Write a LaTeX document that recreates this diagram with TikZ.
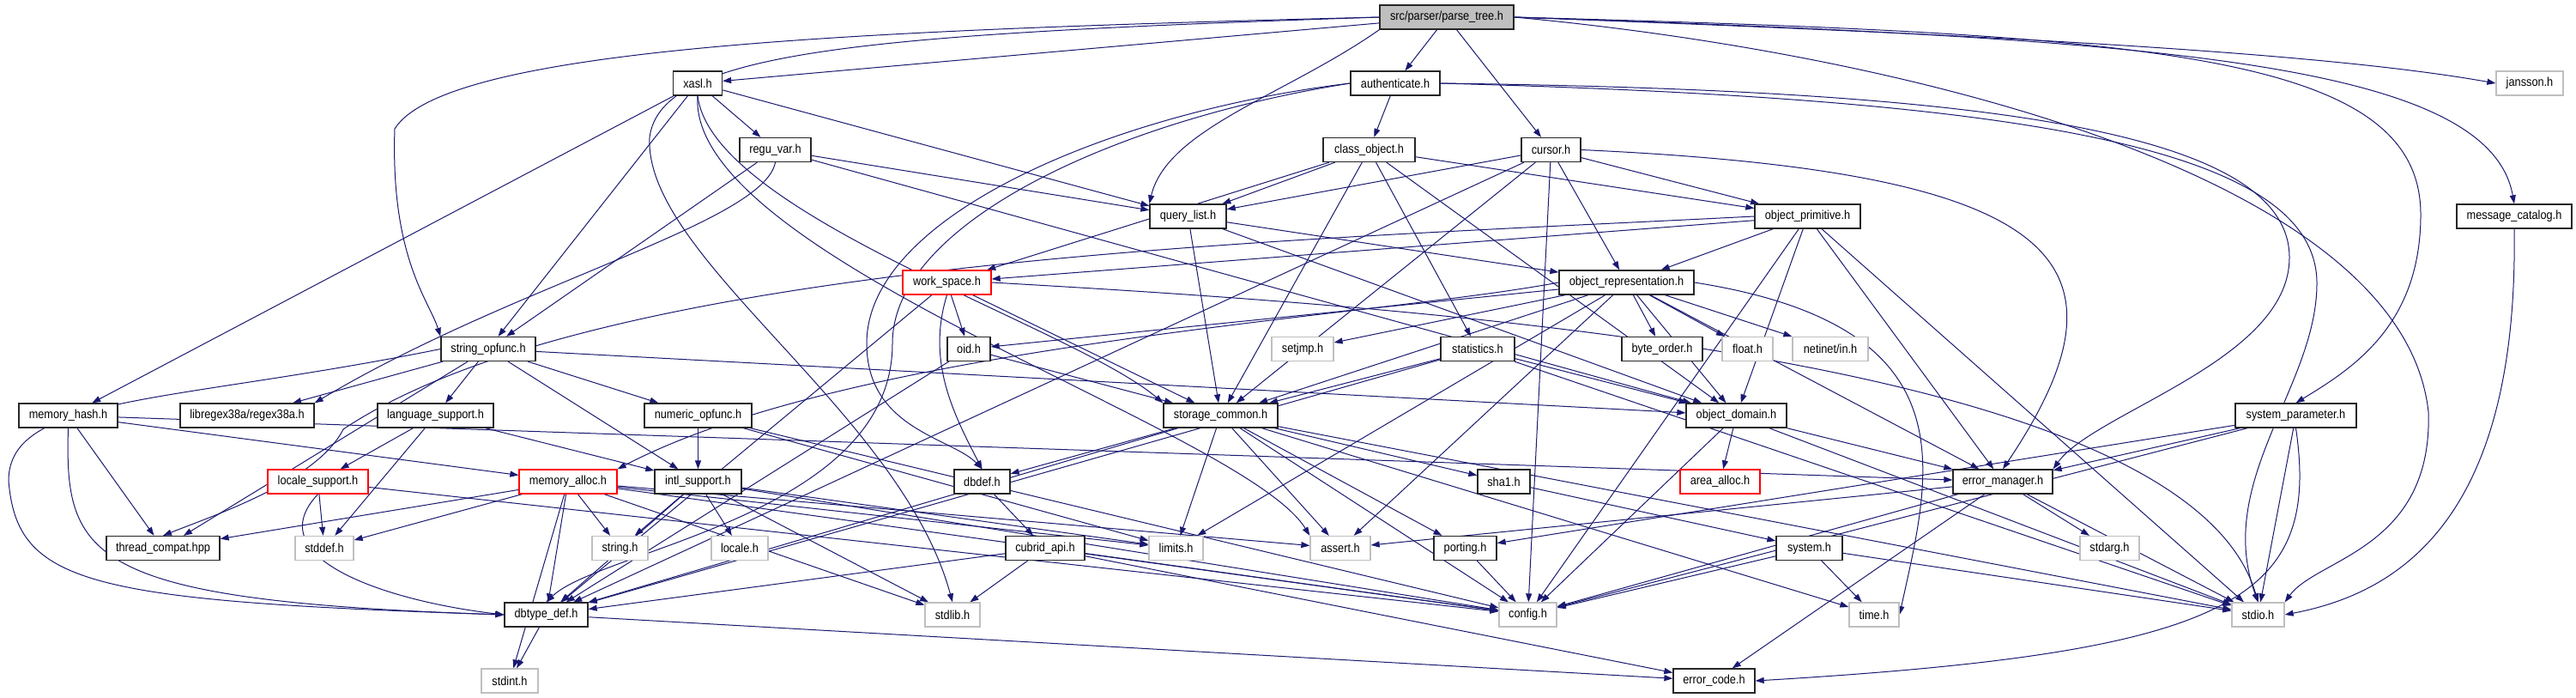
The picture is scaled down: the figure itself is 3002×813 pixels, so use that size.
\documentclass[tikz,border=0pt]{standalone}
\usepackage{fontspec}
\setmainfont[FakeStretch=0.88]{Liberation Sans}
\usetikzlibrary{arrows.meta}
\definecolor{edgec}{HTML}{191970}
\definecolor{gbord}{HTML}{BFBFBF}
\definecolor{fillgray}{HTML}{BFBFBF}
\pgfdeclarelayer{bg}
\pgfsetlayers{bg,main}
\begin{document}
\begin{tikzpicture}[x=1pt,y=-1pt,
  box/.style={draw=black!85,line width=1.3pt,fill=white,rectangle,inner sep=0pt,minimum height=28pt,font=\fontsize{14.5}{16}\selectfont},
  gbox/.style={box,draw=gbord},
  rbox/.style={box,draw=red},
  e/.style={draw=edgec,line width=1pt,-{Triangle[length=10pt,width=7pt]}}]
\useasboundingbox (0,0) rectangle (3002,813);
% rank 0
\node[box,fill=fillgray,minimum width=156pt] (pt) at (1686,20) {src/parser/parse\_tree.h};
% rank 1
\node[box,minimum width=57pt] (xasl) at (813,97) {xasl.h};
\node[box,minimum width=104pt] (auth) at (1626,97) {authenticate.h};
\node[gbox,minimum width=78pt] (jan) at (2948,97) {jansson.h};
% rank 2
\node[box,minimum width=83pt] (regu) at (903.5,174.5) {regu\_var.h};
\node[box,minimum width=107pt] (cls) at (1595.5,174.5) {class\_object.h};
\node[box,minimum width=69pt] (cur) at (1807.5,174.5) {cursor.h};
% rank 3
\node[box,minimum width=89pt] (ql) at (1384.5,252) {query\_list.h};
\node[box,minimum width=123pt] (op) at (2106.5,252) {object\_primitive.h};
\node[box,minimum width=134pt] (mc) at (2930,252) {message\_catalog.h};
% rank 4
\node[rbox,minimum width=103pt] (ws) at (1103.5,329) {work\_space.h};
\node[box,minimum width=157pt] (orep) at (1895.5,329) {object\_representation.h};
% rank 5
\node[box,minimum width=110pt] (so) at (569,406.5) {string\_opfunc.h};
\node[box,minimum width=50pt] (oid) at (1129,406.5) {oid.h};
\node[gbox,minimum width=72pt] (sj) at (1518,406.5) {setjmp.h};
\node[box,minimum width=86pt] (stat) at (1722,406.5) {statistics.h};
\node[box,minimum width=94pt] (bo) at (1937,406.5) {byte\_order.h};
\node[gbox,minimum width=59pt] (flt) at (2036.5,406.5) {float.h};
\node[gbox,minimum width=88pt] (net) at (2133,406.5) {netinet/in.h};
% rank 6
\node[box,minimum width=115pt] (mh) at (79.5,484) {memory\_hash.h};
\node[box,minimum width=156pt] (rx) at (288,484) {libregex38a/regex38a.h};
\node[box,minimum width=135pt] (lang) at (507.5,484) {language\_support.h};
\node[box,minimum width=125pt] (num) at (813.5,484) {numeric\_opfunc.h};
\node[box,minimum width=133pt] (sc) at (1422.5,484) {storage\_common.h};
\node[box,minimum width=117pt] (od) at (2023.5,484) {object\_domain.h};
\node[box,minimum width=141pt] (sp) at (2675.5,484) {system\_parameter.h};
% rank 7
\node[rbox,minimum width=117pt] (ls) at (370.5,561) {locale\_support.h};
\node[rbox,minimum width=114pt] (ma) at (662,561) {memory\_alloc.h};
\node[box,minimum width=101pt] (intl) at (813.5,561) {intl\_support.h};
\node[box,minimum width=65pt] (dbdef) at (1144.5,561) {dbdef.h};
\node[box,minimum width=61pt] (sha) at (1752.5,561) {sha1.h};
\node[rbox,minimum width=93pt] (aa) at (2004.5,561) {area\_alloc.h};
\node[box,minimum width=116pt] (em) at (2334,561) {error\_manager.h};
% rank 8
\node[box,minimum width=132pt] (tc) at (190,638.5) {thread\_compat.hpp};
\node[gbox,minimum width=68pt] (sdef) at (378,638.5) {stddef.h};
\node[gbox,minimum width=65pt] (str) at (722.5,638.5) {string.h};
\node[gbox,minimum width=66pt] (loc) at (862,638.5) {locale.h};
\node[box,minimum width=92pt] (capi) at (1218,638.5) {cubrid\_api.h};
\node[gbox,minimum width=63pt] (lim) at (1370.5,638.5) {limits.h};
\node[gbox,minimum width=70pt] (as) at (1562,638.5) {assert.h};
\node[box,minimum width=73pt] (port) at (1707.5,638.5) {porting.h};
\node[box,minimum width=77pt] (sys) at (2108.5,638.5) {system.h};
\node[gbox,minimum width=69pt] (sarg) at (2458.5,638.5) {stdarg.h};
% rank 9
\node[box,minimum width=97pt] (dt) at (636.5,716) {dbtype\_def.h};
\node[gbox,minimum width=64pt] (slib) at (1110,716) {stdlib.h};
\node[gbox,minimum width=67pt] (cfg) at (1780.5,716) {config.h};
\node[gbox,minimum width=58pt] (tm) at (2184,716) {time.h};
\node[gbox,minimum width=61pt] (sio) at (2631.5,716) {stdio.h};
% rank 10
\node[gbox,minimum width=66pt] (sint) at (594,793) {stdint.h};
\node[box,minimum width=95pt] (ec) at (1997.5,793) {error\_code.h};

\begin{pgfonlayer}{bg}
% ---- edges: parse_tree
\draw[e] (pt) -- (xasl);
\draw[e] (pt) -- (auth);
\draw[e] (pt) -- (cur);
\draw[e] (pt.east) .. controls (2300,40) and (2700,60) .. (jan.west);
\draw[e] (pt.east) .. controls (2500,45) and (2900,70) .. (mc.north);
\draw[e] (pt.east) .. controls (2500,40) and (2821,60) .. (2821,250) .. controls (2821,380) and (2740,430) .. (sp.north);
\draw[e] (pt.east) .. controls (2200,60) and (2800,200) .. (2830,480) .. controls (2835,640) and (2700,650) .. (sio.north east);
\draw[e] (pt.west) .. controls (1000,35) and (520,55) .. (460,150) .. controls (455,300) and (500,350) .. (so.north west);
\draw[e] (pt.south west) .. controls (1500,110) and (1360,150) .. (ql.north west);
\draw[e] (pt.west) .. controls (1000,40) and (770,60) .. (757,160) .. controls (750,300) and (1050,480) .. (slib.north);
% xasl
\draw[e] (xasl) -- (regu);
\draw[e] (xasl) -- (ql);
\draw[e] (xasl) -- (mh);
\draw[e] (xasl) -- (so);
\draw[e] (xasl.south) .. controls (830,250) and (1250,380) .. (sc.north west);
\draw[e] (xasl.south) .. controls (800,300) and (1450,500) .. (as.north west);
% regu_var
\draw[e] (regu) -- (ql);
\draw[e] (regu) -- (so);
\draw[e] (regu.south) .. controls (890,260) and (600,330) .. (rx.north east);
\draw[e] (regu) -- (od);
% authenticate
\draw[e] (auth) -- (cls);
\draw[e] (auth.east) .. controls (2300,105) and (2668,150) .. (2668,300) .. controls (2668,420) and (2440,480) .. (em.north east);
\draw[e] (auth.east) .. controls (2350,115) and (2700,170) .. (2700,330) .. controls (2700,450) and (2580,560) .. (sio.north);
\draw[e] (auth.west) .. controls (1300,130) and (1010,250) .. (1010,400) .. controls (1010,500) and (1110,510) .. (dbdef.north);
\draw[e] (auth.west) .. controls (1300,140) and (1040,260) .. (1040,400) .. controls (1040,600) and (700,640) .. (dt.north);
% class_object
\draw[e] (cls) -- (ws);
\draw[e] (cls) -- (ql);
\draw[e] (cls) -- (stat);
\draw[e] (cls) -- (op);
\draw[e] (cls) -- (od);
\draw[e] (cls) -- (sc);
% cursor
\draw[e] (cur) -- (ql);
\draw[e] (cur) -- (sc);
\draw[e] (cur) -- (orep);
\draw[e] (cur) -- (op);
\draw[e] (cur.east) .. controls (2400,200) and (2500,300) .. (em.north);
\draw[e] (cur) -- (cfg);
\draw[e] (cur) -- (dt);
% query_list
\draw[e] (ql) -- (orep);
\draw[e] (ql) -- (sc);
\draw[e] (ql) -- (od);
% object_primitive
\draw[e] (op) -- (ws);
\draw[e] (op.west) .. controls (1500,280) and (700,300) .. (400,500) .. controls (370,560) and (250,600) .. (tc.north);
\draw[e] (op) -- (orep);
\draw[e] (op) -- (od);
\draw[e] (op) -- (em);
\draw[e] (op) -- (sio);
\draw[e] (op) -- (cfg);
% work_space
\draw[e] (ws) -- (oid);
\draw[e] (ws.south) .. controls (1080,420) and (1110,480) .. (dbdef.north);
\draw[e] (ws) -- (sc);
\draw[e] (ws) -- (dt);
\draw[e] (ws.east) .. controls (1700,360) and (2550,420) .. (sio.north);
% object_representation
\draw[e] (orep) -- (oid);
\draw[e] (orep) -- (sj);
\draw[e] (orep) -- (bo);
\draw[e] (orep) -- (flt);
\draw[e] (orep) -- (net);
\draw[e] (orep) -- (as);
\draw[e] (orep) -- (od);
\draw[e] (orep) -- (sc);
\draw[e] (orep.west) .. controls (1600,370) and (1000,400) .. (ma.north east);
\draw[e] (orep) -- (lim);
\draw[e] (orep) -- (em);
\draw[e] (orep.east) .. controls (2300,380) and (2250,550) .. (tm.east);
% oid
\draw[e] (oid) -- (sc);
\draw[e] (oid) -- (dt);
% statistics
\draw[e] (stat) -- (sc);
\draw[e] (stat) -- (dt);
\draw[e] (stat) -- (od);
\draw[e] (stat) -- (sio);
% storage_common
\draw[e] (sc) -- (dbdef);
\draw[e] (sc) -- (dt);
\draw[e] (sc) -- (lim);
\draw[e] (sc) -- (as);
\draw[e] (sc) -- (cfg);
\draw[e] (sc) -- (port);
\draw[e] (sc) -- (sha);
\draw[e] (sc) -- (tm);
\draw[e] (sc) -- (sio);
% object_domain
\draw[e] (od) -- (aa);
\draw[e] (od) -- (cfg);
\draw[e] (od) -- (em);
\draw[e] (od) -- (sio);
% system_parameter
\draw[e] (sp) -- (em);
\draw[e] (sp) -- (port);
\draw[e] (sp) -- (cfg);
\draw[e] (sp) -- (sio);
\draw[e] (sp.south) .. controls (2705,700) and (2600,760) .. (ec.east);
% message_catalog
\draw[e] (mc.south) .. controls (2935,600) and (2800,690) .. (sio.east);
% memory_hash
\draw[e] (mh) -- (tc);
\draw[e] (mh.south) .. controls (75,650) and (100,700) .. (dt.west);
\draw[e] (mh) -- (ma);
\draw[e] (mh) -- (em);
% language_support
\draw[e] (lang) -- (ls);
\draw[e] (lang) -- (sdef);
\draw[e] (lang) -- (intl);
% numeric_opfunc
\draw[e] (num) -- (intl);
\draw[e] (num) -- (lim);
\draw[e] (num) -- (cfg);
% string_opfunc
\draw[e] (so) -- (rx);
\draw[e] (so) -- (tc);
\draw[e] (so) -- (lang);
\draw[e] (so) -- (num);
\draw[e] (so.west) .. controls (200,470) and (10,460) .. (10,560) .. controls (20,680) and (100,700) .. (dt.west);
\draw[e] (so) -- (od);
\draw[e] (so) -- (intl);
% locale_support
\draw[e] (ls) -- (sdef);
\draw[e] (ls.south) .. controls (300,650) and (450,700) .. (dt.west);
\draw[e] (ls) -- (cfg);
% memory_alloc
\draw[e] (ma) -- (tc);
\draw[e] (ma) -- (sdef);
\draw[e] (ma) -- (sint);
\draw[e] (ma) -- (dt);
\draw[e] (ma) -- (str);
\draw[e] (ma) -- (lim);
\draw[e] (ma) -- (as);
\draw[e] (ma) -- (cfg);
\draw[e] (ma) -- (slib);
% intl_support
\draw[e] (intl) -- (loc);
\draw[e] (intl) -- (str);
\draw[e] (intl) -- (slib);
\draw[e] (intl) -- (dt);
\draw[e] (intl) -- (lim);
\draw[e] (intl) -- (cfg);
% dbdef
\draw[e] (dbdef) -- (capi);
% cubrid_api
\draw[e] (capi) -- (slib);
\draw[e] (capi) -- (dt);
\draw[e] (capi) -- (cfg);
\draw[e] (capi) -- (ec);
% sha1, porting, system
\draw[e] (sha) -- (sys);
\draw[e] (port) -- (cfg);
\draw[e] (sys) -- (cfg);
\draw[e] (sys) -- (tm);
\draw[e] (sys) -- (sio);
% error_manager
\draw[e] (em) -- (sarg);
\draw[e] (em) -- (cfg);
\draw[e] (em) -- (ec);
\draw[e] (em) -- (sio);
\draw[e] (em) -- (as);
% dbtype_def
\draw[e] (dt) -- (sint);
\draw[e] (dt) -- (ec);
\end{pgfonlayer}
\end{tikzpicture}
\end{document}
